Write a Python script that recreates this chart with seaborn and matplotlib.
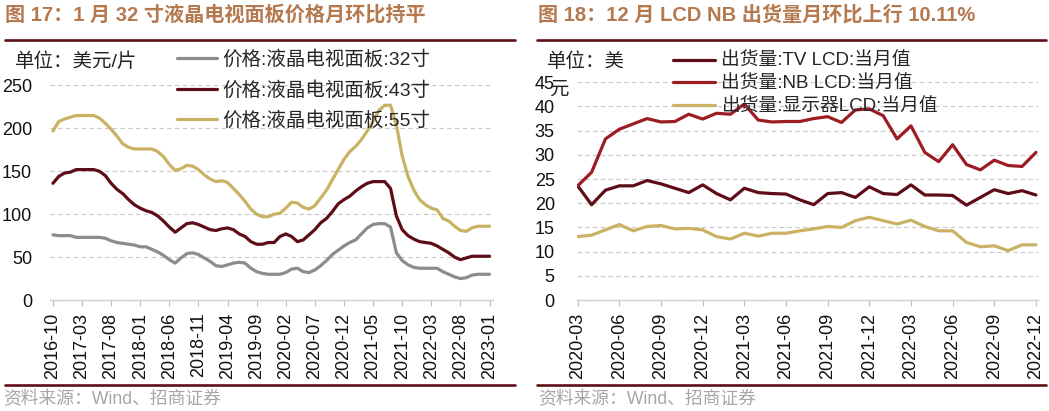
import numpy as np
import pandas as pd
import matplotlib
matplotlib.use("Agg")
import matplotlib.pyplot as plt
from matplotlib.lines import Line2D
import seaborn as sns

W, H = 1049, 411

# ---------------- data: left panel (USD / piece) ----------------
months_l = pd.period_range("2016-10", "2023-01", freq="M").strftime("%Y-%m").tolist()
p32 = [76, 75, 75, 75, 73, 73, 73, 73, 73, 72,
       69, 67, 66, 65, 64, 62, 62, 59, 56, 52,
       47, 43, 49, 54, 55, 53, 49, 45, 40, 39,
       41, 43, 44, 43, 37, 33, 31, 30, 30, 30,
       32, 36, 37, 33, 32, 35, 40, 46, 53, 58,
       63, 67, 70, 77, 84, 88, 89, 89, 85, 55,
       46, 41, 38, 37, 37, 37, 37, 33, 30, 27,
       25, 26, 29, 30, 30, 30]
p43 = [136, 144, 148, 149, 152, 152, 152, 152, 150, 145,
       136, 129, 124, 117, 111, 107, 104, 102, 98, 92,
       85, 79, 84, 89, 90, 88, 85, 82, 81, 83,
       84, 82, 77, 74, 68, 65, 65, 67, 67, 74,
       77, 74, 68, 70, 76, 82, 90, 95, 103, 112,
       117, 121, 127, 132, 136, 138, 138, 138, 130, 98,
       82, 75, 71, 68, 67, 66, 63, 59, 55, 50,
       47, 49, 51, 51, 51, 51]
p55 = [197, 208, 211, 213, 215, 215, 215, 215, 212, 206,
       199, 191, 182, 178, 176, 176, 176, 176, 173, 167,
       158, 151, 153, 157, 156, 152, 146, 141, 138, 139,
       137, 130, 123, 115, 106, 100, 97, 97, 100, 101,
       107, 114, 113, 108, 106, 110, 119, 128, 140, 152,
       164, 173, 179, 187, 197, 208, 221, 227, 227, 204,
       168, 144, 128, 117, 111, 107, 105, 95, 92, 86,
       81, 80, 84, 86, 86, 86]
labels_l = ["价格:液晶电视面板:32寸", "价格:液晶电视面板:43寸", "价格:液晶电视面板:55寸"]
yticks_l = [0, 50, 100, 150, 200, 250]

# ---------------- data: right panel ----------------
months_r = pd.period_range("2020-03", "2022-12", freq="M").strftime("%Y-%m").tolist()
tv = [23.6, 19.7, 22.7, 23.6, 23.6, 24.7, 24.0, 23.1, 22.2, 23.8,
      22.0, 20.7, 23.1, 22.2, 22.0, 21.9, 20.7, 19.7, 22.0, 22.2,
      21.2, 23.4, 22.0, 21.8, 23.8, 21.7, 21.7, 21.6, 19.6, 21.2,
      22.8, 22.0, 22.6, 21.7]
nb = [23.6, 26.4, 33.3, 35.3, 36.4, 37.5, 36.8, 36.9, 38.4, 37.4,
      38.6, 38.4, 40.5, 37.2, 36.8, 36.9, 36.9, 37.5, 37.9, 36.7,
      39.3, 39.5, 38.1, 33.3, 36.0, 30.5, 28.6, 32.1, 28.0, 26.9,
      28.9, 27.8, 27.6, 30.5]
mon = [13.1, 13.4, 14.5, 15.6, 14.3, 15.2, 15.4, 14.7, 14.8, 14.5,
       13.1, 12.6, 13.8, 13.2, 13.8, 13.8, 14.3, 14.7, 15.2, 15.0,
       16.4, 17.1, 16.4, 15.7, 16.5, 15.2, 14.3, 14.3, 11.9, 11.0,
       11.2, 10.2, 11.4, 11.4]
labels_r = ["出货量:TV LCD:当月值", "出货量:NB LCD:当月值", "出货量:显示器LCD:当月值"]
yticks_r = [0, 5, 10, 15, 20, 25, 30, 35, 40, 45]

# ---------------- style ----------------
sns.set_theme(style="white")
FAM = ["Liberation Sans", "Noto Sans CJK SC", "DejaVu Sans"]
plt.rcParams["font.family"] = FAM
plt.rcParams["axes.unicode_minus"] = False

GRAY = "#8c8c8c"
MAROON = "#5e0d17"
RED = "#9c1c24"
GOLD = "#c9b263"
TITLE_C = "#b5794f"
RULE_C = "#5e1016"
GRID_C = "#c8c8c8"

fig = plt.figure(figsize=(W / 100, H / 100), dpi=100)


def fx(x):
    return x / W


def fy(y):
    return 1 - y / H


def make_ax(l, r, t, b):
    return fig.add_axes([fx(l), fy(b), (r - l) / W, (b - t) / H])


def style_ax(ax, yticks, ypad):
    for s in ["left", "top", "right"]:
        ax.spines[s].set_visible(False)
    ax.spines["bottom"].set_color("#cfcfcf")
    ax.spines["bottom"].set_linewidth(1.0)
    ax.set_yticks(yticks)
    ax.yaxis.grid(True, color=GRID_C, linestyle=(0, (4, 3)), linewidth=0.8)
    ax.xaxis.grid(False)
    ax.tick_params(axis="y", length=0, pad=ypad, labelsize=13, labelcolor="#111111")
    ax.tick_params(axis="x", length=4, width=0.8, color="#bdbdbd", direction="out",
                   pad=5, labelsize=13, labelcolor="#111111", bottom=True)
    ax.set_xlabel("")
    ax.set_ylabel("")
    ax.set_axisbelow(True)


# ---------------- left panel ----------------
axL = make_ax(50, 493, 85.5, 300)
dfL = pd.DataFrame({
    "idx": np.tile(np.arange(len(months_l)), 3),
    "value": p32 + p43 + p55,
    "series": np.repeat(labels_l, len(months_l)),
})
sns.lineplot(data=dfL, x="idx", y="value", hue="series", hue_order=labels_l,
             palette=[GRAY, MAROON, GOLD], linewidth=2.3, ax=axL, legend=True)
axL.set_xlim(-0.5, 75.6)
axL.set_ylim(0, 250)
tick_idx_l = list(range(0, len(months_l), 5))
axL.set_xticks(tick_idx_l)
axL.set_xticklabels([months_l[i] for i in tick_idx_l], rotation=90)
style_ax(axL, yticks_l, 13)
hL, lL = axL.get_legend_handles_labels()
axL.get_legend().remove()
axL.legend(hL, lL, loc="upper left", bbox_to_anchor=(fx(177), fy(50)),
           bbox_transform=fig.transFigure, frameon=False, fontsize=14,
           handlelength=2.05, handletextpad=0.3, labelspacing=0.62,
           borderpad=0, borderaxespad=0)

# ---------------- right panel ----------------
axR = make_ax(577, 1038, 82.3, 300)
dfR = pd.DataFrame({
    "idx": np.tile(np.arange(len(months_r)), 3),
    "value": tv + nb + mon,
    "series": np.repeat(labels_r, len(months_r)),
})
sns.lineplot(data=dfR, x="idx", y="value", hue="series", hue_order=labels_r,
             palette=[MAROON, RED, GOLD], linewidth=2.3, ax=axR, legend=True)
axR.set_xlim(-0.05, 33.15)
axR.set_ylim(0, 45)
tick_idx_r = list(range(0, len(months_r), 3))
axR.set_xticks(tick_idx_r)
axR.set_xticklabels([months_r[i] for i in tick_idx_r], rotation=90)
style_ax(axR, yticks_r, 16)
hR, lR = axR.get_legend_handles_labels()
axR.get_legend().remove()
axR.legend(hR, lR, loc="upper left", bbox_to_anchor=(fx(673), fy(53)),
           bbox_transform=fig.transFigure, frameon=False, fontsize=13.5,
           handlelength=2.25, handletextpad=0.3, labelspacing=0.3,
           borderpad=0, borderaxespad=0)

# ---------------- titles, units, rules, sources ----------------
fig.text(fx(5), fy(15), "图 17：1 月 32 寸液晶电视面板价格月环比持平", color=TITLE_C,
         fontsize=14.5, fontweight="bold", va="center", ha="left")
fig.text(fx(538), fy(15), "图 18：12 月 LCD NB 出货量月环比上行 10.11%", color=TITLE_C,
         fontsize=14.5, fontweight="bold", va="center", ha="left")

fig.text(fx(15), fy(62), "单位：美元/片", fontsize=14, color="#222222", va="center", ha="left")
fig.text(fx(547), fy(62), "单位：美", fontsize=14, color="#222222", va="center", ha="left")
fig.text(fx(549), fy(90), "元", fontsize=14, color="#222222", va="center", ha="left")

for (x0, x1) in [(5, 515), (537, 1046)]:
    for y in (40, 385):
        fig.add_artist(Line2D([fx(x0), fx(x1)], [fy(y), fy(y)], color=RULE_C,
                              linewidth=1.9, transform=fig.transFigure))

fig.text(fx(3), fy(400), "资料来源：Wind、招商证券", fontsize=12.8, color="#a6a6a6",
         va="center", ha="left")
fig.text(fx(538), fy(400), "资料来源：Wind、招商证券", fontsize=12.8, color="#a6a6a6",
         va="center", ha="left")

fig.savefig("out.png", dpi=100, facecolor="white")
